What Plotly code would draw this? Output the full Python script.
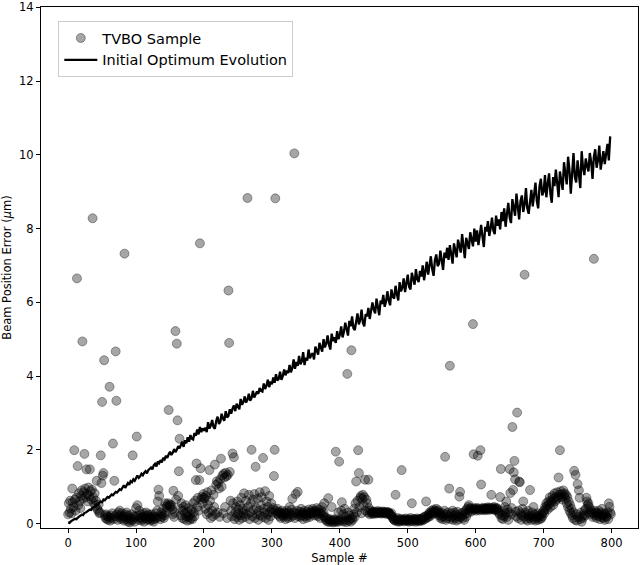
import plotly.graph_objects as go

# Noisy evolution of the initial optimum (one value every 2 samples)
optimum_error = [
    0.03,0.02,0.06,0.08,0.09,0.13,0.12,0.17,0.19,0.21,0.24,0.23,0.29,0.30,0.33,0.35,0.38,0.37,0.43,0.45,
    0.47,0.52,0.51,0.57,0.59,0.58,0.65,0.63,0.69,0.72,0.70,0.76,0.79,0.77,0.83,0.86,0.84,0.90,0.93,0.91,
    0.98,1.04,0.97,1.06,1.10,1.05,1.15,1.12,1.20,1.16,1.22,1.30,1.24,1.28,1.35,1.31,1.38,1.42,1.36,1.45,
    1.48,1.52,1.47,1.58,1.62,1.55,1.68,1.64,1.72,1.66,1.78,1.74,1.84,1.78,1.88,1.95,1.86,1.92,2.02,1.94,
    2.00,2.10,2.04,2.15,2.22,2.08,2.26,2.18,2.34,2.22,2.40,2.30,2.28,2.46,2.38,2.55,2.42,2.62,2.48,2.58,
    2.52,2.60,2.48,2.75,2.58,2.66,2.81,2.62,2.57,2.78,2.90,2.70,2.76,2.98,2.84,2.79,3.05,2.88,2.92,3.10,
    2.98,3.12,3.20,3.05,3.25,3.18,3.10,3.38,3.22,3.30,3.45,3.28,3.36,3.52,3.33,3.40,3.60,3.42,3.50,3.58,
    3.52,3.68,3.60,3.58,3.80,3.65,3.74,3.90,3.70,3.85,3.78,3.96,3.82,4.05,3.88,3.92,4.12,3.90,4.00,4.18,
    4.02,4.15,4.08,4.30,4.10,4.22,4.45,4.20,4.38,4.28,4.55,4.32,4.40,4.65,4.30,4.50,4.42,4.72,4.48,4.58,
    4.62,4.45,4.80,4.68,4.58,4.90,4.75,4.66,5.00,4.78,4.88,5.10,4.85,4.72,5.15,4.95,5.05,4.90,5.22,5.00,
    5.12,5.35,5.05,5.20,5.45,5.28,5.10,5.50,5.35,5.62,5.30,5.25,5.55,5.70,5.40,5.52,5.80,5.45,5.35,5.68,
    5.62,5.85,5.55,5.75,6.00,5.80,5.70,6.10,5.85,5.65,6.05,5.95,6.20,5.88,6.02,6.30,6.05,5.92,6.35,6.15,
    6.10,6.45,6.22,6.05,6.55,6.30,6.40,6.65,6.28,6.50,6.75,6.42,6.35,6.80,6.58,6.48,6.90,6.62,6.55,6.85,
    6.70,7.00,6.60,6.85,7.10,6.75,6.95,7.25,6.90,6.72,7.15,7.30,6.98,7.05,7.40,7.10,6.88,7.35,7.20,7.48,
    7.15,7.55,7.30,7.05,7.60,7.40,7.22,7.70,7.48,7.35,7.85,7.55,7.20,7.75,7.62,7.45,7.90,7.68,7.52,8.00,
    7.65,7.95,7.55,7.82,8.10,7.78,7.50,8.05,7.92,8.20,7.80,8.00,8.30,7.95,7.85,8.35,8.08,8.25,7.98,8.45,
    8.20,8.55,8.05,8.40,8.70,8.30,8.15,8.80,8.50,8.35,8.95,8.60,8.25,8.75,8.90,8.45,8.65,9.10,8.55,8.40,
    8.80,9.05,8.60,8.95,9.25,8.75,8.55,9.15,9.35,8.90,9.00,9.45,8.85,9.20,9.50,8.95,8.70,9.40,9.15,9.60,
    9.25,8.85,9.55,9.35,9.05,9.80,9.45,9.20,9.95,9.60,8.95,9.70,10.05,9.40,9.25,9.85,9.55,9.10,10.10,9.65,
    9.45,9.90,9.70,9.55,10.05,9.80,9.35,9.95,10.15,9.65,9.85,10.25,9.60,9.90,10.10,9.75,10.00,10.30,9.85,10.50,
]
optimum_sample = [2 * i for i in range(len(optimum_error))]

# TVBO samples (one per sample index)
tvbo_error = [
    0.25,0.55,0.30,0.62,0.40,0.28,0.95,0.58,0.45,1.99,0.65,0.35,0.70,6.65,1.56,0.50,0.82,0.60,0.42,0.75,
    0.90,4.94,0.68,0.85,1.89,0.95,0.72,1.47,0.80,0.60,0.98,0.75,1.47,0.88,0.65,0.92,8.28,0.70,0.55,0.82,
    0.48,0.62,1.16,0.40,0.35,0.52,0.28,0.30,1.85,1.10,3.30,1.30,1.37,4.43,0.22,0.15,0.25,0.12,0.20,0.10,
    0.18,3.71,0.08,0.22,0.15,0.28,2.17,0.12,1.16,0.20,4.67,3.33,0.25,0.10,0.30,0.18,0.35,0.22,0.12,0.28,
    0.15,0.20,0.08,7.32,0.25,0.12,0.30,0.18,0.05,0.22,0.10,0.03,0.15,0.25,0.08,1.85,0.12,0.20,0.05,0.18,
    0.42,2.36,0.50,0.22,0.10,0.35,0.15,0.25,0.08,0.18,0.12,0.28,0.05,0.20,0.15,0.30,0.10,0.22,0.25,0.12,
    0.18,0.08,0.15,0.25,0.10,0.20,0.05,0.12,0.18,0.28,0.15,0.35,0.60,0.92,0.75,0.20,0.12,0.30,0.18,0.25,
    0.40,0.15,0.22,0.55,0.30,0.45,0.50,0.55,3.08,0.48,0.52,0.45,0.50,0.38,0.25,0.89,0.18,0.30,5.22,0.65,
    4.88,2.80,0.75,1.42,2.30,0.40,0.22,0.55,0.15,0.35,0.45,0.12,0.28,0.50,0.20,0.08,0.32,0.18,0.42,0.10,
    0.25,0.15,0.38,0.12,0.55,0.30,0.20,0.62,1.18,1.63,0.45,0.70,0.35,1.18,7.60,1.50,0.65,0.72,0.55,0.80,
    0.70,0.68,0.40,0.75,0.25,0.85,0.50,0.30,1.45,0.62,0.15,0.90,0.35,0.20,0.78,0.45,1.60,0.25,1.05,1.15,
    0.30,1.10,0.95,0.18,1.20,1.76,1.00,1.30,0.28,1.35,1.25,0.45,1.38,1.28,0.15,1.32,6.32,4.90,1.40,0.62,
    0.35,0.20,1.90,0.55,1.80,0.12,0.30,0.45,0.18,0.60,0.25,0.38,0.10,0.50,0.22,0.70,0.15,0.40,0.28,0.82,
    0.35,0.18,0.62,0.25,8.83,0.45,0.78,0.12,0.30,0.55,2.00,0.20,0.65,0.38,0.80,0.15,1.54,0.42,0.25,0.68,
    0.10,0.35,0.85,0.22,0.50,0.72,0.18,1.78,0.40,0.30,0.88,0.15,0.60,0.25,0.45,0.10,0.75,0.32,0.20,0.55,
    0.38,0.30,0.42,1.29,2.00,8.82,0.35,0.28,0.40,0.25,0.32,0.20,0.30,0.15,0.28,0.35,0.22,0.18,0.30,0.25,
    0.12,0.28,0.35,0.20,0.15,0.30,0.45,0.25,0.18,0.38,0.67,0.22,0.30,10.04,0.15,0.80,0.28,0.35,0.86,0.20,
    0.25,0.32,0.18,0.40,0.22,0.30,0.12,0.28,0.35,0.20,0.25,0.15,0.32,0.22,0.38,0.28,0.18,0.30,0.25,0.35,
    0.40,0.28,0.32,0.22,0.35,0.30,0.42,0.25,0.20,0.38,0.30,0.15,0.28,0.35,0.45,0.22,0.30,0.55,0.18,0.12,
    0.08,0.15,0.05,0.69,0.10,0.04,0.12,0.06,0.45,0.08,0.03,0.10,0.05,0.12,1.95,0.07,0.04,0.09,0.30,1.68,
    0.06,0.12,0.35,0.58,0.08,0.25,0.05,0.40,0.10,0.18,0.04,4.06,0.30,0.08,0.22,0.12,0.05,4.70,0.15,0.10,
    0.25,0.40,0.18,0.55,1.14,0.30,0.62,1.99,1.37,0.45,0.70,0.75,0.28,0.68,0.78,0.50,0.72,1.19,0.35,0.65,
    0.55,0.30,1.19,0.42,0.25,0.35,0.28,0.30,0.32,0.26,0.30,0.33,0.28,0.31,0.27,0.30,0.34,0.29,0.31,0.28,
    0.32,0.30,0.27,0.33,0.29,0.31,0.28,0.30,0.32,0.26,0.29,0.31,0.30,0.27,0.25,0.22,0.28,0.20,0.15,0.12,
    0.10,0.08,0.78,0.12,0.06,0.15,0.09,0.05,0.11,0.07,0.13,1.45,0.08,0.10,0.06,0.12,0.09,0.14,0.07,0.10,
    0.08,0.12,0.05,0.10,0.15,0.07,0.55,0.11,0.06,0.13,0.09,0.12,0.05,0.10,0.14,0.08,0.11,0.06,0.13,0.09,
    0.12,0.08,0.15,0.10,0.18,0.12,0.20,0.60,0.15,0.22,0.18,0.25,0.30,0.20,0.28,0.35,0.25,0.32,0.38,0.28,
    0.35,0.30,0.40,0.33,0.28,0.36,0.22,0.30,0.15,0.25,0.18,0.12,0.28,0.20,0.35,1.81,0.10,0.25,0.15,0.30,
    0.20,0.95,4.28,0.12,0.28,0.18,0.35,0.10,0.22,0.30,0.15,0.25,0.08,0.32,0.20,0.12,0.73,0.86,0.18,0.28,
    0.22,0.15,0.30,0.10,0.25,0.35,0.18,0.40,0.28,0.45,0.50,0.38,0.42,0.32,0.40,0.36,5.41,1.88,0.42,0.38,
    0.40,0.35,0.42,1.84,0.38,0.41,0.36,1.99,1.06,0.40,0.37,0.43,0.39,0.41,0.36,0.40,0.42,0.38,0.44,0.40,
    0.37,0.41,0.43,0.78,0.39,0.42,0.38,0.45,0.40,0.36,0.43,0.39,0.41,0.35,0.30,0.25,0.72,1.48,0.15,0.22,
    0.12,0.35,0.20,0.45,0.28,0.60,0.18,0.38,0.10,0.30,1.48,0.83,0.25,0.42,2.62,0.91,1.39,1.70,1.20,0.32,
    0.20,3.01,0.15,0.35,1.14,1.12,0.28,0.10,0.22,0.40,0.60,0.18,6.75,0.30,0.12,0.25,0.08,0.35,0.20,0.15,
    0.91,0.22,0.10,0.30,0.18,0.45,0.12,0.25,0.08,0.20,0.15,0.28,0.10,0.22,0.18,0.12,0.25,0.15,0.20,0.30,
    0.35,0.28,0.45,0.40,0.55,0.48,0.38,0.60,0.52,0.71,0.45,0.62,0.58,0.75,0.50,0.68,0.82,0.60,0.72,0.65,
    0.85,0.70,1.25,0.78,1.99,0.88,0.72,0.80,0.65,0.90,0.75,0.82,0.68,0.78,0.55,0.72,0.45,0.60,0.35,0.50,
    0.28,0.40,0.22,0.15,0.30,1.43,0.10,1.32,0.25,0.08,1.07,0.18,0.90,0.70,0.12,0.30,0.05,0.20,0.15,0.25,
    0.35,0.22,0.40,0.70,0.60,0.50,0.55,0.45,0.30,0.38,0.25,0.32,0.18,0.28,7.18,0.35,0.22,0.30,0.15,0.28,
    0.20,0.35,0.25,0.12,0.30,0.18,0.40,0.22,0.15,0.28,0.10,0.25,0.20,0.18,0.30,0.12,0.55,0.45,0.30,0.25,
]
tvbo_sample = list(range(len(tvbo_error)))

x_ticks = [0, 100, 200, 300, 400, 500, 600, 700, 800]
y_ticks = [0, 2, 4, 6, 8, 10, 12, 14]

FONT = "DejaVu Sans"

fig = go.Figure()
fig.add_trace(go.Scatter(
    x=tvbo_sample, y=tvbo_error, mode="markers", name="TVBO Sample",
    marker=dict(size=9, color="rgba(0,0,0,0.35)",
                line=dict(color="rgba(0,0,0,0.35)", width=1)),
))
fig.add_trace(go.Scatter(
    x=optimum_sample, y=optimum_error, mode="lines", name="Initial Optimum Evolution",
    line=dict(color="black", width=2.3),
))

axis_common = dict(
    showgrid=False, zeroline=False, showline=True, mirror=True,
    linecolor="black", linewidth=1, ticks="outside", ticklen=4,
    tickwidth=1, tickcolor="black", ticklabeloverflow="allow",
    automargin=False,
    tickfont=dict(family=FONT, size=11.5, color="black"),
)

fig.update_layout(
    width=640, height=565,
    margin=dict(l=41, r=2, t=7, b=37),
    paper_bgcolor="white", plot_bgcolor="white",
    font=dict(family=FONT, color="black"),
    showlegend=True,
    legend=dict(
        x=0.029, y=0.973, xanchor="left", yanchor="top",
        bgcolor="rgba(255,255,255,0.8)", bordercolor="#cccccc", borderwidth=1,
        font=dict(family=FONT, size=14.5, color="black"),
        itemwidth=33,
    ),
    xaxis=dict(range=[-39.95, 838.95], tickvals=x_ticks,
               title=dict(text="Sample #", font=dict(family=FONT, size=11.5), standoff=6),
               **axis_common),
    yaxis=dict(range=[-0.12, 14.01], tickvals=y_ticks,
               title=dict(text="Beam Position Error (<i>μ</i>m)", font=dict(family=FONT, size=11.5), standoff=6),
               **axis_common),
)

fig.write_html("out.html")
